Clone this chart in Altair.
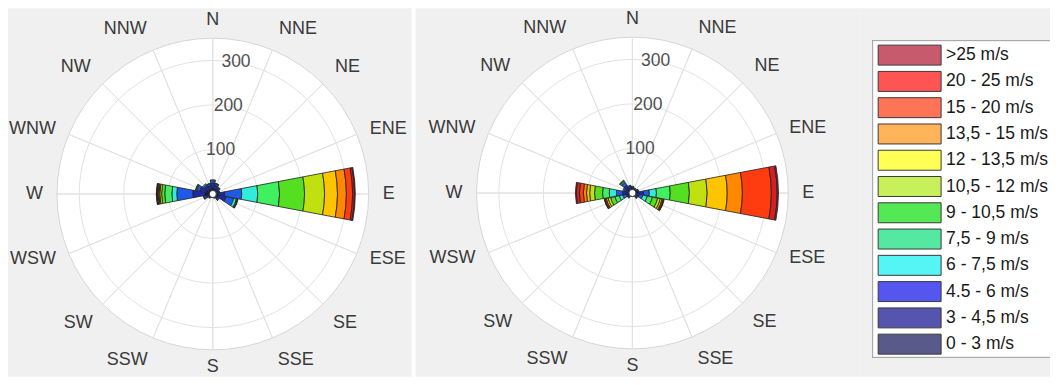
import math
import altair as alt
import pandas as pd

# ---------------- data ----------------
directions = ["N", "NNE", "NE", "ENE", "E", "ESE", "SE", "SSE",
              "S", "SSW", "SW", "WSW", "W", "WNW", "NW", "NNW"]
speed_bins = ["0 - 3 m/s", "3 - 4,5 m/s", "4.5 - 6 m/s", "6 - 7,5 m/s",
              "7,5 - 9 m/s", "9 - 10,5 m/s", "10,5 - 12 m/s", "12 - 13,5 m/s",
              "13,5 - 15 m/s", "15 - 20 m/s", "20 - 25 m/s", ">25 m/s"]
ring_values = [100, 200, 300]
ring_labels = ["100", "200", "300"]

# frequencies per speed bin (0-3 ... >25) for each direction, left rose
L_N = [13, 11, 6, 2]
L_NNE = [11, 9, 4, 1]
L_NE = [9, 7, 3, 1]
L_ENE = [7, 6, 2, 1]
L_E = [11, 16, 38, 36, 49, 56, 45, 29, 20, 14, 4, 2]
L_ESE = [12, 18, 18, 6, 2, 1, 1]
L_SE = [8, 6, 3, 1]
L_SSE = [5, 3, 2]
L_S = [4, 3, 1]
L_SSW = [4, 3, 1]
L_SW = [5, 4, 2, 1]
L_WSW = [9, 8, 4, 1]
L_W = [18, 27, 36, 11, 16, 7, 4, 2, 2, 2, 1, 1]
L_WNW = [16, 14, 7, 2, 1]
L_NW = [12, 10, 4, 2]
L_NNW = [11, 9, 4, 1]

# right rose
R_N = [7, 5, 2, 1]
R_NNE = [6, 4, 2]
R_NE = [6, 4, 2]
R_ENE = [7, 5, 2, 1]
R_E = [13, 12, 13, 16, 31, 43, 40, 45, 34, 65, 13, 3]
R_ESE = [8, 8, 8, 10, 12, 12, 6, 4, 2, 2, 1]
R_SE = [7, 5, 2, 1]
R_SSE = [4, 3, 1]
R_S = [3, 2, 1]
R_SSW = [4, 3, 1]
R_SW = [6, 5, 2, 1]
R_WSW = [8, 7, 7, 8, 10, 10, 6, 4, 2, 2, 1]
R_W = [11, 11, 14, 16, 15, 18, 11, 7, 7, 9, 7, 2]
R_WNW = [9, 7, 4, 2]
R_NW = [12, 10, 7, 3, 2, 1]
R_NNW = [8, 6, 3, 1]

left_counts = [L_N, L_NNE, L_NE, L_ENE, L_E, L_ESE, L_SE, L_SSE,
               L_S, L_SSW, L_SW, L_WSW, L_W, L_WNW, L_NW, L_NNW]
right_counts = [R_N, R_NNE, R_NE, R_ENE, R_E, R_ESE, R_SE, R_SSE,
                R_S, R_SSW, R_SW, R_WSW, R_W, R_WNW, R_NW, R_NNW]

# ---------------- styles ----------------
wedge_colors = ["#0c0c55", "#1a2aa8", "#1e5ae6", "#30ecd8", "#40f060",
                "#54e020", "#c0e010", "#ffc400", "#ff8800", "#ff3c10",
                "#d42020", "#a01830"]
legend_colors = ["#5a5a8a", "#5555b0", "#5555f0", "#55f5f5", "#55e8a0",
                 "#55e855", "#c8f05a", "#ffff55", "#ffb45a", "#ff7456",
                 "#ff5454", "#c85a6e"]
FONT = "Liberation Sans"
RMAX = 350
RPX = 156
HALF = 10.75
STEP = 360 / len(directions)
LABEL_R = 170

theta_scale = alt.Scale(domain=[0, 360], range=[0, 2 * math.pi])
radius_scale = alt.Scale(type="linear", domain=[0, RMAX], range=[0, RPX])


def th(field):
    return alt.Theta(field, scale=theta_scale, stack=None)


def rd(field):
    return alt.Radius(field, scale=radius_scale, stack=None)


def wedge_frame(counts):
    rows = []
    for i, (d, vals) in enumerate(zip(directions, counts)):
        ang = i * STEP
        cum = 0
        for b, v in zip(speed_bins, vals):
            if v <= 0:
                continue
            rows.append(dict(dir=d, bin=b, t0=ang - HALF, t1=ang + HALF,
                             r0=cum, r1=cum + v))
            cum += v
    return pd.DataFrame(rows)


def label_frame():
    rows = []
    for i, d in enumerate(directions):
        a = i * STEP
        sx = math.sin(math.radians(a))
        cy = math.cos(math.radians(a))
        if abs(sx) < 0.1:
            g = "center|middle|" + ("n" if cy > 0 else "s")
        else:
            h = "left" if sx > 0 else "right"
            v = "middle" if abs(cy) < 0.5 else ("bottom" if cy > 0 else "top")
            g = h + "|" + v + "|o"
        rows.append(dict(d=d, a=a, g=g))
    return pd.DataFrame(rows)


def label_style(g):
    hal, val, kind = g.split("|")
    if kind == "n":
        return hal, "middle", 174.5
    if kind == "s":
        return hal, "middle", 173.5
    if val == "bottom":
        return hal, "alphabetic", LABEL_R + 3
    return hal, val, LABEL_R


def rose(counts, w, h, cx, cy):
    pos = dict(x=alt.value(cx), y=alt.value(cy))
    disc = alt.Chart(pd.DataFrame({"t0": [0], "t1": [360], "r1": [RMAX]})).mark_arc(
        fill="white", stroke="#d6d6d6", strokeWidth=1
    ).encode(theta=th("t0:Q"), theta2="t1:Q", radius=rd("r1:Q"), **pos)

    rings = alt.Chart(pd.DataFrame({"t0": 0, "t1": 360, "r1": ring_values})).mark_arc(
        fillOpacity=0, stroke="#e2e2e2", strokeWidth=1
    ).encode(theta=th("t0:Q"), theta2="t1:Q", radius=rd("r1:Q"), **pos)

    spoke_df = pd.DataFrame({"t0": [i * STEP for i in range(len(directions))],
                             "r1": RMAX})
    spokes = alt.Chart(spoke_df).mark_arc(
        fillOpacity=0, stroke="#e2e2e2", strokeWidth=1
    ).encode(theta=th("t0:Q"), theta2="t0:Q", radius=rd("r1:Q"), **pos)

    wedges = alt.Chart(wedge_frame(counts)).mark_arc(
        stroke="#222222", strokeWidth=0.9, strokeOpacity=0.9
    ).encode(
        theta=th("t0:Q"), theta2="t1:Q",
        radius=rd("r0:Q"), radius2="r1:Q",
        color=alt.Color("bin:N", scale=alt.Scale(domain=speed_bins, range=wedge_colors),
                        legend=None),
        **pos,
    )

    hub = alt.Chart(pd.DataFrame({"t0": [0], "t1": [360], "r1": [8]})).mark_arc(
        fill="white", stroke="#333333", strokeWidth=1
    ).encode(theta=th("t0:Q"), theta2="t1:Q", radius=rd("r1:Q"), **pos)

    rlab = alt.Chart(pd.DataFrame({"a": 10, "v": ring_values, "lab": ring_labels})).mark_text(
        font=FONT, fontSize=17.5, color="#505050", align="center", baseline="middle"
    ).encode(theta=th("a:Q"), radius=rd("v:Q"), text="lab:N", **pos)

    ddf = label_frame()
    dlayers = []
    for g in sorted(set(ddf["g"])):
        hal, base, r = label_style(g)
        dlayers.append(
            alt.Chart(ddf).transform_filter(alt.datum.g == g).mark_text(
                font=FONT, fontSize=18, color="#3a3a3a", align=hal,
                baseline=base, radius=r
            ).encode(theta=th("a:Q"), text="d:N", **pos)
        )

    return alt.layer(disc, rings, spokes, wedges, hub, rlab, *dlayers).properties(
        width=w, height=h
    )


left = rose(left_counts, 404, 369, 205, 186)
right = rose(right_counts, 444, 369, 217, 185)

# ---------------- legend ----------------
legend_order = list(reversed(speed_bins))
leg_df = pd.DataFrame({"lbin": speed_bins})
y_leg = alt.Y("lbin:N", sort=legend_order,
              scale=alt.Scale(domain=legend_order, range=[33.85, 349.45],
                              paddingInner=0.24, paddingOuter=0.12),
              axis=None)
one = pd.DataFrame({"k": [0]})
box = alt.Chart(one).mark_rect(fill="white", strokeWidth=0).encode(
    x=alt.value(13), x2=alt.value(191), y=alt.value(32), y2=alt.value(350))
box_l = alt.Chart(one).mark_rule(color="#9a9a9a", strokeWidth=1).encode(
    x=alt.value(13.5), y=alt.value(32), y2=alt.value(350))
box_t = alt.Chart(one).mark_rule(color="#9a9a9a", strokeWidth=1).encode(
    x=alt.value(13), x2=alt.value(191), y=alt.value(32.5))
box_b = alt.Chart(one).mark_rule(color="#9a9a9a", strokeWidth=1).encode(
    x=alt.value(13), x2=alt.value(191), y=alt.value(349.5))
swatch = alt.Chart(leg_df).mark_rect(stroke="#3a3a3a", strokeWidth=1).encode(
    x=alt.value(19), x2=alt.value(82), y=y_leg,
    fill=alt.Fill("lbin:N", scale=alt.Scale(domain=speed_bins, range=legend_colors),
                  legend=None),
)
labels = alt.Chart(leg_df).mark_text(
    font=FONT, fontSize=17.5, color="#1a1a1a", align="left", baseline="middle"
).encode(x=alt.value(87), y=y_leg, text="lbin:N")

legend = alt.layer(box, box_l, box_t, box_b, swatch, labels).properties(width=191, height=369)

chart = alt.hconcat(
    left, alt.hconcat(right, legend, spacing=0).resolve_scale(color="independent", fill="independent"),
    spacing=4
).resolve_scale(color="independent", fill="independent").properties(
    padding=0, background="white"
).configure_view(fill="#f0f0f0", strokeWidth=0)

chart.save("out.html", embed_options={"renderer": "svg", "actions": False})
